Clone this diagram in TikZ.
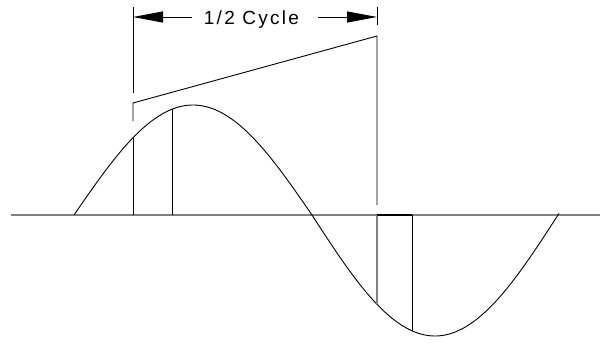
\documentclass[tikz,border=0pt]{standalone}
\usepackage{fontspec}
\setmainfont{Liberation Sans}
\usetikzlibrary{arrows.meta}
\begin{document}
\begin{tikzpicture}[x=1pt,y=-1pt,
  wave/.style={line width=0.9pt,black},
  thin/.style={line width=0.9pt,black},
  axisline/.style={line width=2pt,black!50},
  grayline/.style={line width=1.6pt,black!50},
  dimarrow/.style={line width=0.9pt,-{Triangle[length=30pt,width=11pt]}},
  label/.style={font=\fontsize{19}{19}\selectfont\addfontfeature{LetterSpace=12},inner sep=0pt,anchor=base}
]
\useasboundingbox (0,0) rectangle (600,343);
% axis
\coordinate (axL) at (11,215);
\coordinate (axR) at (600,215);
\draw[axisline] (axL) -- (axR);
% wave
\draw[wave] plot[domain=74:312,samples=80,smooth] (\x,{215-110*sin((\x-74)/238*180)});
\draw[wave] plot[domain=312:559,samples=80,smooth] (\x,{215+121*sin((\x-312)/246*180)});
% coordinates
\coordinate (L1t) at (133,7);
\coordinate (L1b) at (133,93);
\coordinate (S1) at (133,103);
\coordinate (S1b) at (133,121);
\coordinate (L1c) at (133,137.8);
\coordinate (L1a) at (133,215);
\coordinate (L2c) at (172,109.2);
\coordinate (L2a) at (172,215);
\coordinate (R1t) at (377,7);
\coordinate (R1b) at (377,25);
\coordinate (S2) at (377,36);
\coordinate (S2b) at (377,205);
\coordinate (R1a) at (377,215);
\coordinate (R1c) at (377,304.3);
\coordinate (R2a) at (412,215);
\coordinate (R2c) at (412,330.8);
\coordinate (AL) at (192,17);
\coordinate (AR) at (318,17);
\coordinate (TL) at (133,17);
\coordinate (TR) at (377,17);
% dimension
\draw[thin] (L1t) -- (L1b);
\draw[thin] (R1t) -- (R1b);
\draw[dimarrow] (AL) -- (TL);
\draw[dimarrow] (AR) -- (TR);
\node[label] (lbl) at (251.5,24) {1/2 Cycle};
% slanted line
\draw[thin] (S1b) -- (S1) -- (S2) -- (S2b);
% verticals
\draw[thin] (L1c) -- (L1a);
\draw[thin] (L2c) -- (L2a);
\draw[grayline] (R1a) -- (R1c);
\draw[thin] (R2a) -- (R2c);
\draw[line width=2pt,black] (R1a) -- (R2a);
\end{tikzpicture}
\end{document}
